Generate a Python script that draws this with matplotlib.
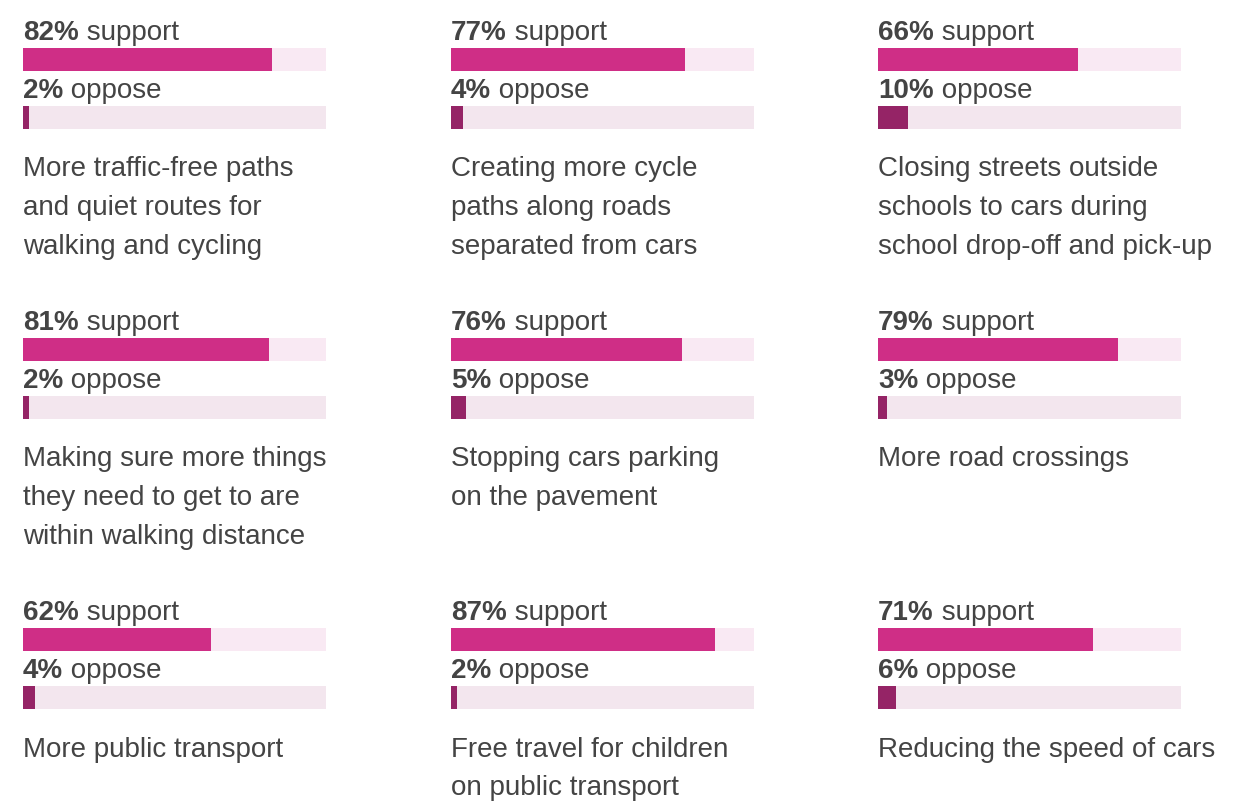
import matplotlib
matplotlib.use("Agg")
import matplotlib.pyplot as plt

# Survey results: share of respondents supporting / opposing each measure
measures = [
    ["More traffic-free paths", "and quiet routes for", "walking and cycling"],
    ["Creating more cycle", "paths along roads", "separated from cars"],
    ["Closing streets outside", "schools to cars during", "school drop-off and pick-up"],
    ["Making sure more things", "they need to get to are", "within walking distance"],
    ["Stopping cars parking", "on the pavement"],
    ["More road crossings"],
    ["More public transport"],
    ["Free travel for children", "on public transport"],
    ["Reducing the speed of cars"],
]
support = [82, 77, 66, 81, 76, 79, 62, 87, 71]
oppose = [2, 4, 10, 2, 5, 3, 4, 2, 6]

SUPPORT_COLOR = "#CF2E86"
SUPPORT_TRACK = "#F9E9F3"
OPPOSE_COLOR = "#952466"
OPPOSE_TRACK = "#F3E6EE"
TEXT_COLOR = "#444444"
FONT = "Liberation Sans"
FS = 20

W, H = 1239, 810
fig = plt.figure(figsize=(W / 100, H / 100), dpi=100)
fig.patch.set_facecolor("white")

col_x = [23, 451, 878]
row_y = [0, 290, 580]
panel_w, panel_h = 303.3, 290
bar_h = 23


def label(ax, y, pct, word):
    t = ax.text(0, y, f"{pct}%", fontsize=FS, fontweight="bold", family=FONT,
                color=TEXT_COLOR, va="baseline", ha="left")
    ax.annotate(f" {word}", xy=(1, 0), xycoords=t, fontsize=FS, family=FONT,
                color=TEXT_COLOR, va="bottom", ha="left")


for i, (lines, s, o) in enumerate(zip(measures, support, oppose)):
    x0 = col_x[i % 3]
    y0 = row_y[i // 3]
    ax = fig.add_axes([x0 / W, 1 - (y0 + panel_h) / H, panel_w / W, panel_h / H])
    ax.set_xlim(0, 100)
    ax.set_ylim(panel_h, 0)
    ax.axis("off")

    # support bar
    ax.barh(59.5, 100, height=bar_h, left=0, color=SUPPORT_TRACK, linewidth=0)
    ax.barh(59.5, s, height=bar_h, left=0, color=SUPPORT_COLOR, linewidth=0)
    # oppose bar
    ax.barh(117.5, 100, height=bar_h, left=0, color=OPPOSE_TRACK, linewidth=0)
    ax.barh(117.5, o, height=bar_h, left=0, color=OPPOSE_COLOR, linewidth=0)

    label(ax, 40, s, "support")
    label(ax, 98, o, "oppose")

    for k, line in enumerate(lines):
        ax.text(0, 176.5 + 38.5 * k, line, fontsize=FS, family=FONT,
                color=TEXT_COLOR, va="baseline", ha="left")

fig.savefig("out.png", dpi=100, facecolor="white")
